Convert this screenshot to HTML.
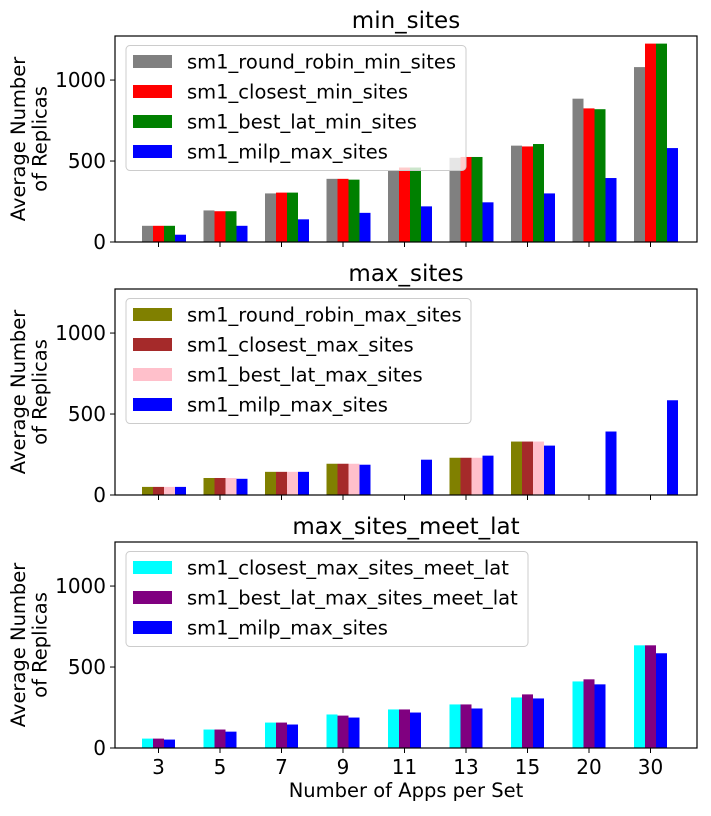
<!DOCTYPE html>
<html><head><meta charset="utf-8"><style>
body{margin:0;background:#fff;width:711px;height:811px;overflow:hidden}
svg text{font-family:"DejaVu Sans","Liberation Sans",sans-serif;fill:#000}
</style></head><body>
<svg id="c" width="711" height="811" xmlns="http://www.w3.org/2000/svg"></svg>
<script>
const categories=["3","5","7","9","11","13","15","20","30"];
const yTicks=[0,500,1000];
const p1Names=["sm1_round_robin_min_sites","sm1_closest_min_sites","sm1_best_lat_min_sites","sm1_milp_max_sites"];
const p1Colors=["#808080","#ff0000","#008000","#0000ff"];
const rrMin=[100,195,300,390,440,520,595,885,1080];
const closestMin=[100,190,305,390,460,525,590,825,1225];
const bestLatMin=[100,190,305,385,460,525,605,820,1225];
const milp=[45,100,140,180,220,245,300,395,580];
const p2Names=["sm1_round_robin_max_sites","sm1_closest_max_sites","sm1_best_lat_max_sites","sm1_milp_max_sites"];
const p2Colors=["#808000","#a52a2a","#ffc0cb","#0000ff"];
const rrMax=[50,105,143,193,0,230,330,0,0];
const closestMax=[50,105,143,193,0,230,330,0,0];
const bestLatMax=[50,105,143,193,0,230,330,0,0];
const milpMax=[50,100,143,187,218,243,305,392,585];
const p3Names=["sm1_closest_max_sites_meet_lat","sm1_best_lat_max_sites_meet_lat","sm1_milp_max_sites"];
const p3Colors=["#00ffff","#800080","#0000ff"];
const closestMeet=[58,114,157,207,238,269,312,411,634];
const bestLatMeet=[58,114,157,200,238,269,331,424,634];
const milpMeet=[52,101,145,188,219,244,306,393,585];

const svg=document.getElementById('c');
const NS="http://www.w3.org/2000/svg";
function el(t,a,txt){const e=document.createElementNS(NS,t);for(const k in a)e.setAttribute(k,a[k]);if(txt!=null)e.textContent=txt;svg.appendChild(e);return e;}
const AX_L=115,AX_R=697,YMAX=1272,BW=11;
function xPos(i){return 158.5+61.5*i;}

function panel(top,title,names,colors,series,legendW,showX){
  const bot=top+206;
  const yPos=v=>bot-v/YMAX*206;
  let t=el('text',{x:(AX_L+AX_R)/2,y:top-8,'font-size':23,'text-anchor':'middle'},title);
  
  
  series.forEach((s,si)=>{
    s.forEach((v,i)=>{
      if(v<=0)return;
      const r=el('rect',{x:xPos(i)+(si-1.5)*BW,y:yPos(v),width:BW,height:bot-yPos(v),fill:colors[si]});
      
      
    });
  });
  const f=el('rect',{x:AX_L,y:top,width:AX_R-AX_L,height:206,fill:'none',stroke:'#000','stroke-width':1.2});
  
  
  yTicks.forEach(v=>{
    el('line',{x1:AX_L-5,x2:AX_L,y1:yPos(v),y2:yPos(v),stroke:'#000'});
    const tl=el('text',{x:AX_L-9,y:yPos(v)+7,'font-size':20,'text-anchor':'end'},String(v));
    
    
  });
  categories.forEach((c,i)=>{
    el('line',{x1:xPos(i),x2:xPos(i),y1:bot,y2:bot+5,stroke:'#000'});
    if(showX){
      const tl=el('text',{x:xPos(i),y:bot+26,'font-size':20,'text-anchor':'middle'},c);
      
      
    }
  });
  const yl=el('text',{transform:`translate(29,${top+103}) rotate(-90)`,'font-size':19.5,'text-anchor':'middle'});
  
  
  const a=document.createElementNS(NS,'tspan');a.setAttribute('x',0);a.setAttribute('dy','-0.2em');a.textContent='Average Number';yl.appendChild(a);
  const b=document.createElementNS(NS,'tspan');b.setAttribute('x',0);b.setAttribute('dy','1.1em');b.textContent='of Replicas';yl.appendChild(b);
  const lh=names.length*30+5;
  const lg=el('rect',{x:126,y:top+9.5,width:legendW,height:lh,rx:4,fill:'#fff','fill-opacity':0.8,stroke:'#ccc'});
  
  
  names.forEach((n,k)=>{
    const cy=top+25.5+k*30;
    const sw=el('rect',{x:133,y:cy-6.5,width:39,height:13,fill:colors[k]});
    
    
    const lt=el('text',{x:187,y:cy+7,'font-size':19.5},n);
    
    
  });
}
panel(36,'min_sites',p1Names,p1Colors,[rrMin,closestMin,bestLatMin,milp],340,false);
panel(289,'max_sites',p2Names,p2Colors,[rrMax,closestMax,bestLatMax,milpMax],345,false);
panel(542,'max_sites_meet_lat',p3Names,p3Colors,[closestMeet,bestLatMeet,milpMeet],402,true);
const xl=el('text',{x:(AX_L+AX_R)/2,y:797,'font-size':19.5,'text-anchor':'middle'},'Number of Apps per Set');


</script>
</body></html>
